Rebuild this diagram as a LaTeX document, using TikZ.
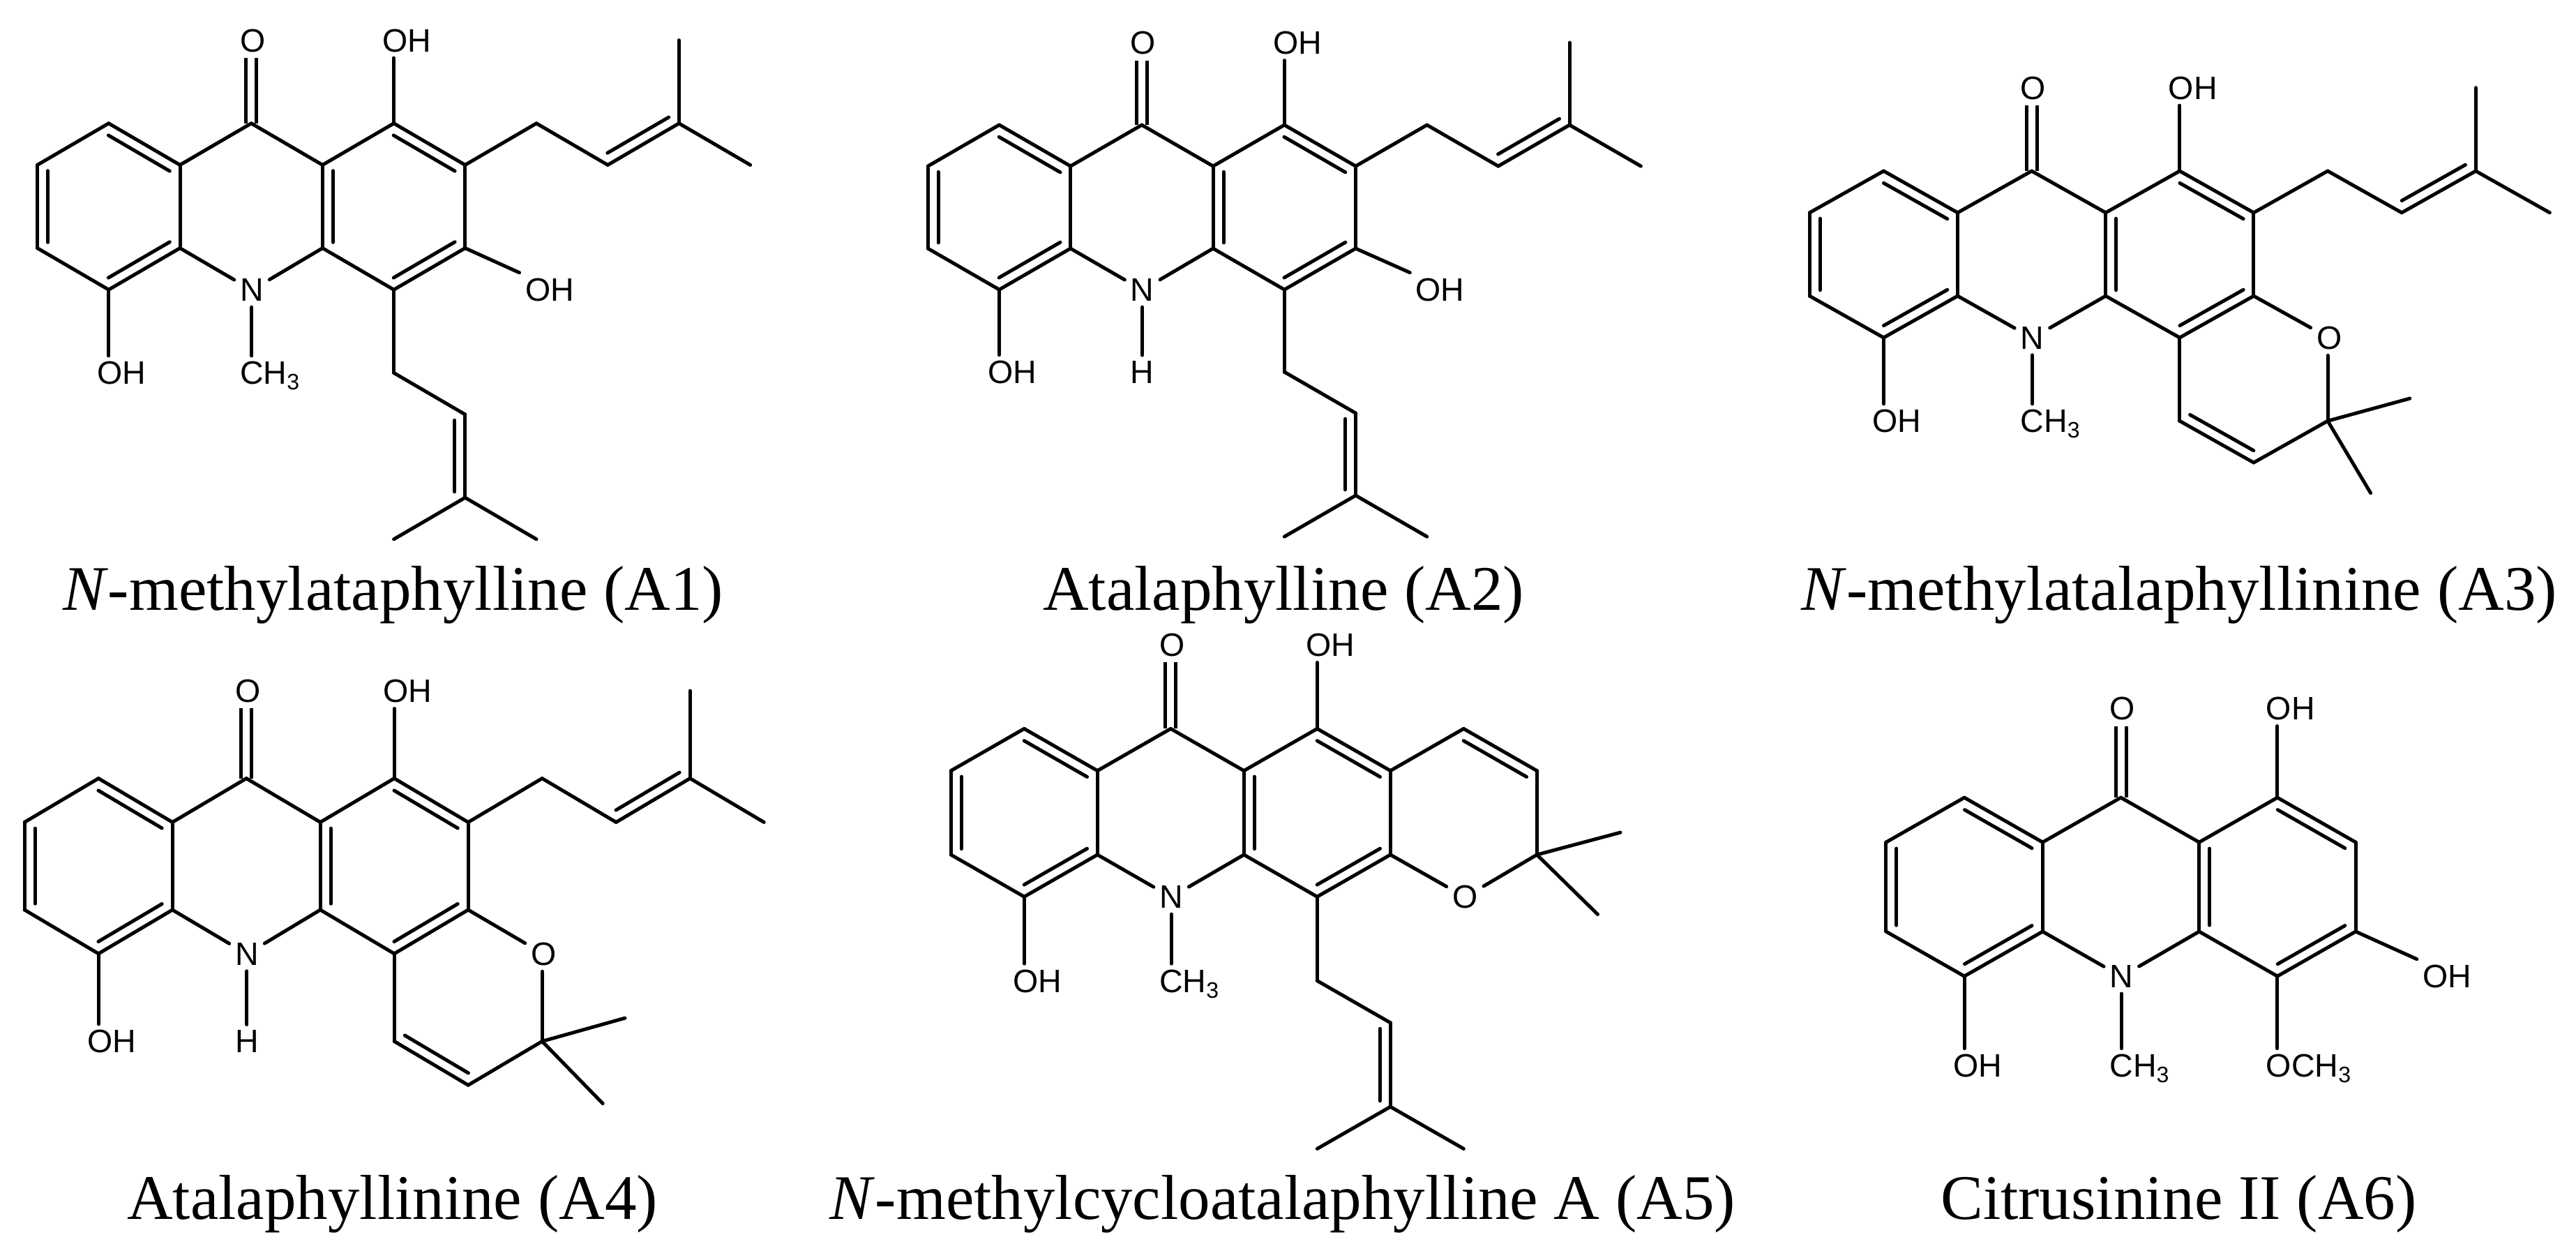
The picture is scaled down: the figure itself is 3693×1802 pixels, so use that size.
\documentclass[tikz,border=0pt]{standalone}
\usepackage{fontspec}
\setmainfont{Liberation Serif}
\setsansfont{Liberation Sans}
\usetikzlibrary{calc}
\tikzset{
    bond/.style={line width=1pt, line cap=round},
    atom/.style={font=\sffamily\fontsize{9.3}{9.3}\selectfont, inner sep=1.5pt, anchor=base west, xshift=-4.9pt, yshift=-3.3pt},
    caption/.style={font=\fontsize{18.2}{18.2}\selectfont, inner sep=0pt, anchor=base},
}
\newcommand{\lowsub}[1]{\lower 1.6pt\hbox{\fontsize{6.4}{6.4}\selectfont #1}}
\newcommand{\dbl}[2]{\draw[bond] ($(#1)!.07!(#2)!3pt!90:(#2)$) -- ($(#2)!.07!(#1)!3pt!-90:(#1)$);}
\newcommand{\acridonecore}[1]{
    \coordinate (c1) at (0,1);
    \coordinate (c2) at (1,0);
    \coordinate (c3) at (2,1);
    \coordinate (c4) at (2,3);
    \coordinate (c5) at (1,4);
    \coordinate (c6) at (0,3);
    \coordinate (c7) at (3,0);
    \coordinate (c8) at (4,1);
    \coordinate (c9) at (4,3);
    \coordinate (c10) at (5,0);
    \coordinate (c11) at (6,1);
    \coordinate (c12) at (6,3);
    \coordinate (c13) at (5,4);
    \node[atom](N) at (3,4){N};
    \node[atom](R) at (3,6){#1};
    \node[atom](O) at (3,-2){O};
    \node[atom](OHa) at (5,-2){OH};
    \node[atom](OHb) at (1,6){OH};
    \draw[bond, line cap=butt, double, double distance=2pt] (c7)--(O.south -| c7);
    \draw[bond]
    (c1)edge(c2) (c2)edge(c3) (c3)edge(c4) (c4)edge(c5) (c5)edge(c6) (c6)edge(c1)
    (c3)edge(c7) (c7)edge(c8) (c8)edge(c9) (c4)edge(N) (c9)edge(N)
    (c8)edge(c10) (c10)edge(c11) (c11)edge(c12) (c12)edge(c13) (c13)edge(c9)
    (N.south)edge(R.north -| N)
    (c10)edge(OHa.south -| c10)
    (c5)edge(OHb.north -| c5)
    ;
    \dbl{c1}{c6} \dbl{c5}{c4} \dbl{c3}{c2}
    \dbl{c8}{c9} \dbl{c13}{c12} \dbl{c11}{c10}
}
\newcommand{\prenyltop}{
    \coordinate (t1) at (7,0);
    \coordinate (t2) at (8,1);
    \coordinate (t3) at (9,0);
    \coordinate (t4) at (9,-2);
    \coordinate (t5) at (10,1);
    \draw[bond] (c11)edge(t1) (t1)edge(t2) (t2)edge(t3) (t3)edge(t4) (t3)edge(t5);
    \dbl{t2}{t3}
}
\newcommand{\prenyllow}{
    \coordinate (l1) at (5,6);
    \coordinate (l2) at (6,7);
    \coordinate (l3) at (6,9);
    \coordinate (l4) at (5,10);
    \coordinate (l5) at (7,10);
    \draw[bond] (c13)edge(l1) (l1)edge(l2) (l2)edge(l3) (l3)edge(l4) (l3)edge(l5);
    \dbl{l3}{l2}
}
\newcommand{\pyranlow}{
    \coordinate (p1) at (5,6);
    \coordinate (p2) at (6,7);
    \coordinate (p3) at (7,6);
    \node[atom](Op) at (7,4){O};
    \draw[bond] (c13)edge(p1) (p1)edge(p2) (p2)edge(p3) (p3)edge(Op.south -| p3) (c12)edge(Op);
    \dbl{p1}{p2}
}
\begin{document}
\begin{tikzpicture}[x=0.2pt, y=-0.2pt]
    \useasboundingbox (0,0) rectangle (3693,1802);
    \begin{scope}[name prefix=a1-, shift={(53.6,176.8)}, x=20.44pt, y=-11.92pt]
        \acridonecore{CH\lowsub{3}}
        \prenyltop
        \prenyllow
        \node[atom](OHc) at (7,4){OH};
        \draw[bond] (c12)edge(OHc.north west);
    \end{scope}
    \begin{scope}[name prefix=a2-, shift={(1330.3,179.1)}, x=20.44pt, y=-11.8pt]
        \acridonecore{H}
        \prenyltop
        \prenyllow
        \node[atom](OHc) at (7,4){OH};
        \draw[bond] (c12)edge(OHc.north west);
    \end{scope}
    \begin{scope}[name prefix=a3-, shift={(2594.3,245.1)}, x=21.22pt, y=-11.94pt]
        \acridonecore{CH\lowsub{3}}
        \prenyltop
        \pyranlow
        \coordinate (m1) at (8.11,5.46);
        \coordinate (m2) at (7.58,7.73);
        \draw[bond] (p3)edge(m1) (p3)edge(m2);
    \end{scope}
    \begin{scope}[name prefix=a4-, shift={(35.2,1115.6)}, x=21.2pt, y=-12.56pt]
        \acridonecore{H}
        \prenyltop
        \pyranlow
        \coordinate (m1) at (8.12,5.47);
        \coordinate (m2) at (7.82,7.42);
        \draw[bond] (p3)edge(m1) (p3)edge(m2);
    \end{scope}
    \begin{scope}[name prefix=a5-, shift={(1363.3,1044.4)}, x=21pt, y=-12.04pt]
        \acridonecore{CH\lowsub{3}}
        \prenyllow
        \coordinate (p1) at (7,0);
        \coordinate (p2) at (8,1);
        \coordinate (p3) at (8,3);
        \node[atom](Op) at (7,4){O};
        \coordinate (m1) at (9.14,2.47);
        \coordinate (m2) at (8.83,4.42);
        \draw[bond] (c11)edge(p1) (p1)edge(p2) (p2)edge(p3) (p3)edge(Op) (c12)edge(Op) (p3)edge(m1) (p3)edge(m2);
        \dbl{p2}{p1}
    \end{scope}
    \begin{scope}[name prefix=a6-, shift={(2703.9,1143.1)}, x=22.44pt, y=-12.8pt]
        \acridonecore{CH\lowsub{3}}
        \node[atom](OHc) at (7,4){OH};
        \node[atom](OMe) at (5,6){OCH\lowsub{3}};
        \draw[bond] (c12)edge(OHc.north west) (c13)edge(OMe.north -| c13);
    \end{scope}
    \node[caption](nameA) at (563.5,874){\textit{N}-methylataphylline (A1)};
    \node[caption](nameB) at (1840,874){Atalaphylline (A2)};
    \node[caption](nameC) at (3124,874){\textit{N}-methylatalaphyllinine (A3)};
    \node[caption](nameD) at (562.5,1747){Atalaphyllinine (A4)};
    \node[caption](nameE) at (1839,1747){\textit{N}-methylcycloatalaphylline A (A5)};
    \node[caption](nameF) at (3123.5,1747){Citrusinine II (A6)};
\end{tikzpicture}
\end{document}
